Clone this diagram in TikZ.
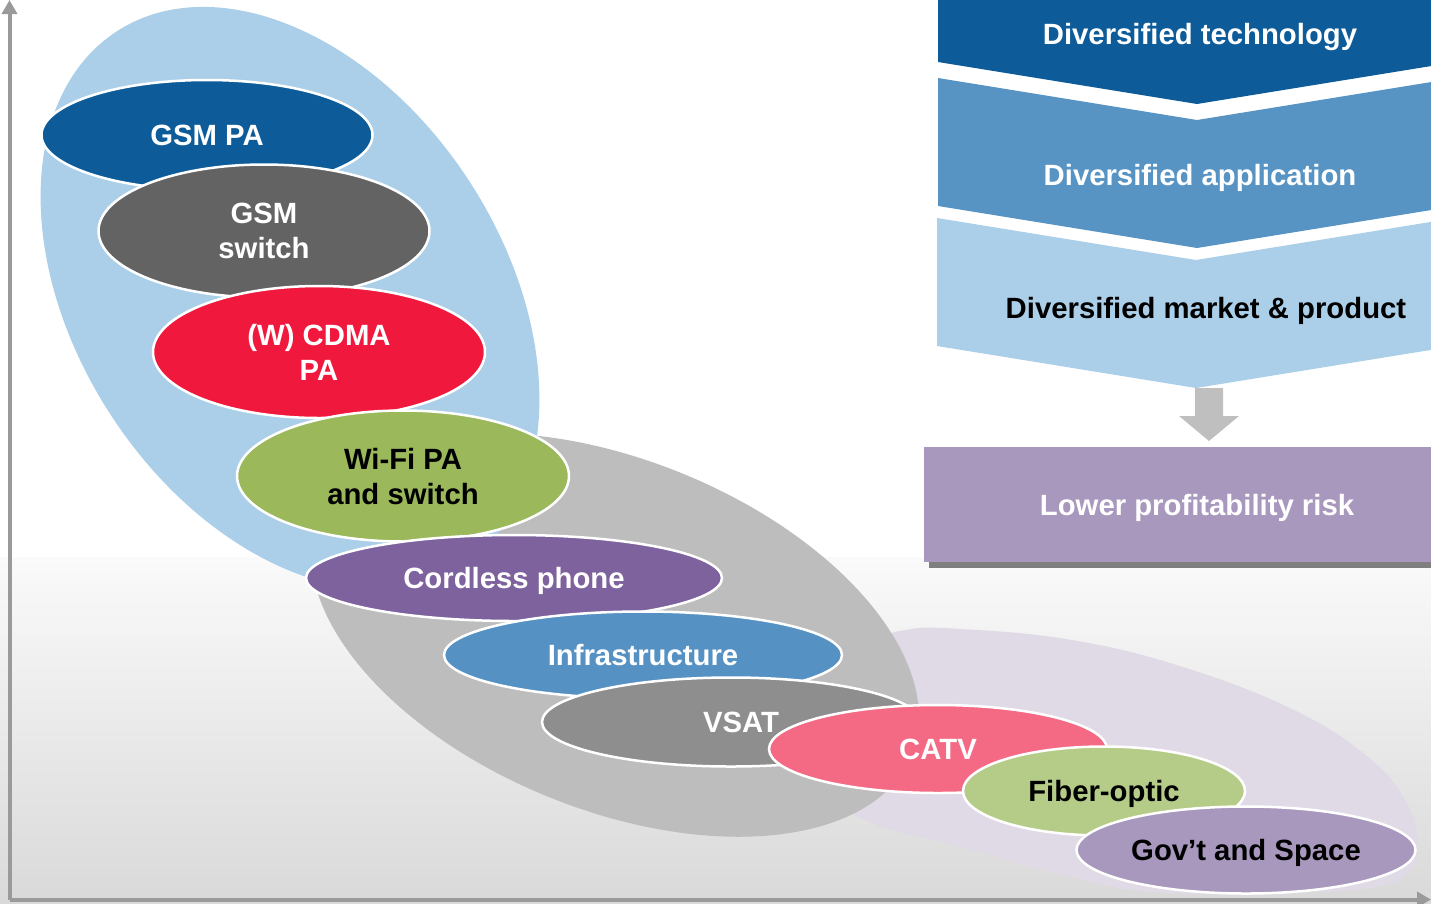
\documentclass[tikz,border=0pt]{standalone}
\usepackage{fontspec}
\setmainfont{Liberation Sans}
\usepackage{xcolor}
\usepackage{tikz}
\usetikzlibrary{arrows.meta, shapes.geometric, shadows}
\definecolor{techblue}{RGB}{13,92,153}
\definecolor{appblue}{RGB}{87,148,195}
\definecolor{mktblue}{RGB}{171,207,232}
\definecolor{switchgray}{RGB}{99,99,99}
\definecolor{cdmared}{RGB}{241,24,61}
\definecolor{wifigreen}{RGB}{155,184,91}
\definecolor{phonepurple}{RGB}{126,98,158}
\definecolor{infrablue}{RGB}{85,146,195}
\definecolor{vsatgray}{RGB}{142,142,142}
\definecolor{catvpink}{RGB}{244,106,132}
\definecolor{fiberlime}{RGB}{181,204,136}
\definecolor{govmauve}{RGB}{168,152,189}
\definecolor{blobgray}{RGB}{189,189,189}
\definecolor{blobmauve}{RGB}{224,218,231}
\definecolor{arrowgray}{RGB}{191,191,191}
\definecolor{shadegray}{RGB}{127,127,127}
\definecolor{axisgray}{RGB}{154,154,154}
\definecolor{washtop}{RGB}{250,250,250}
\definecolor{washbot}{RGB}{217,217,217}

\begin{document}
\begin{tikzpicture}[
  x=1pt, y=-1pt,
  font=\bfseries\fontsize{29.3}{35}\selectfont,
  every node/.style={align=center},
  seg/.style n args={3}{ellipse, draw=white, line width=2.5pt, fill=#1,
                        minimum width=#2, minimum height=#3, inner sep=1pt,
                        text depth=0pt},
  banner/.style={text depth=0pt},
  riskbox/.style={rectangle, fill=govmauve, minimum width=546, minimum height=115,
                  text=white, text depth=0pt,
                  drop shadow={shadow xshift=5pt, shadow yshift=-6pt,
                               fill=shadegray, opacity=1}},
  axisline/.style={draw=axisgray, line width=4pt,
                   -{Triangle[width=15pt, length=14pt]}},
]
\clip (0,0) rectangle (1431,903);

%% wash along the foot of the chart
\fill[top color=washtop, bottom color=washbot] (0,557) rectangle (1431,903);

%% ---- market groups (back to front) ----
\fill[blobmauve] plot[smooth cycle, tension=0.7] coordinates {
  (870,645) (905,630) (961,629) (1072,640) (1183,667) (1294,710) (1368,757)
  (1405,800) (1417,840) (1410,870) (1370,888) (1260,893) (1150,892)
  (1072,877) (961,847) (855,815) (815,760) (840,680)};
\coordinate (midgrp) at (615,635);
\fill[blobgray, rotate around={-22:(midgrp)}]
  (midgrp) ellipse [x radius=320, y radius=175];
\coordinate (mobgrp) at (290,298);
\fill[mktblue, rotate around={-57:(mobgrp)}]
  (mobgrp) ellipse [x radius=318, y radius=214];

%% ---- product segments ----
\node[seg={techblue}{331}{110}, text=white]    (gsmpa)    at (207,135)  {GSM PA};
\node[seg={switchgray}{331}{133}, text=white]  (gsmsw)    at (264,231)  {GSM\\switch};
\node[seg={cdmared}{332}{132}, text=white]     (cdma)     at (319,352)  {(W) CDMA\\PA};
\node[seg={wifigreen}{332}{131}]               (wifi)     at (403,476)  {Wi-Fi PA\\and switch};
\node[seg={phonepurple}{416}{86}, text=white]  (cordless) at (514,578)  {Cordless phone};
\node[seg={infrablue}{398}{87}, text=white]    (infra)    at (643,655)  {Infrastructure};
\node[seg={vsatgray}{378}{89}, text=white]     (vsat)     at (731,722)  {\hspace{20pt}VSAT};
\node[seg={catvpink}{338}{88}, text=white]     (catv)     at (938,749)  {CATV};
\node[seg={fiberlime}{282}{89}]                (fiber)    at (1104,791) {Fiber-optic};
\node[seg={govmauve}{339}{87}]                 (gov)      at (1246,850) {Gov’t and Space};

%% ---- diversification chevrons ----
\fill[techblue] (938,0) -- (1456,0) -- (1456,62) -- (1197,104) -- (938,62) -- cycle;
\fill[appblue]  (938,78) -- (1197,120) -- (1456,78) -- (1456,206)
                -- (1197,248) -- (938,206) -- cycle;
\fill[mktblue]  (937,218) -- (1196,260) -- (1455,218) -- (1455,346)
                -- (1196,388) -- (937,346) -- cycle;
\node[banner, text=white] (tech) at (1200,34)  {Diversified technology};
\node[banner, text=white] (app)  at (1200,175) {Diversified application};
\node[banner]             (mkt)  at (1206,308) {Diversified market \& product};

%% block arrow down to the outcome
\fill[arrowgray] (1195,388) -- (1223,388) -- (1223,416) -- (1239,416)
  -- (1209,441) -- (1179,416) -- (1195,416) -- cycle;
\node[riskbox] (risk) at (1197,504.5) {Lower profitability risk};

%% ---- axes ----
\coordinate (origin) at (9.5,899.5);
\coordinate (ytop)   at (9.5,0);
\coordinate (xend)   at (1431,899.5);
\draw[axisline] (origin) -- (ytop);
\draw[axisline] (origin) -- (xend);

\end{tikzpicture}
\end{document}
